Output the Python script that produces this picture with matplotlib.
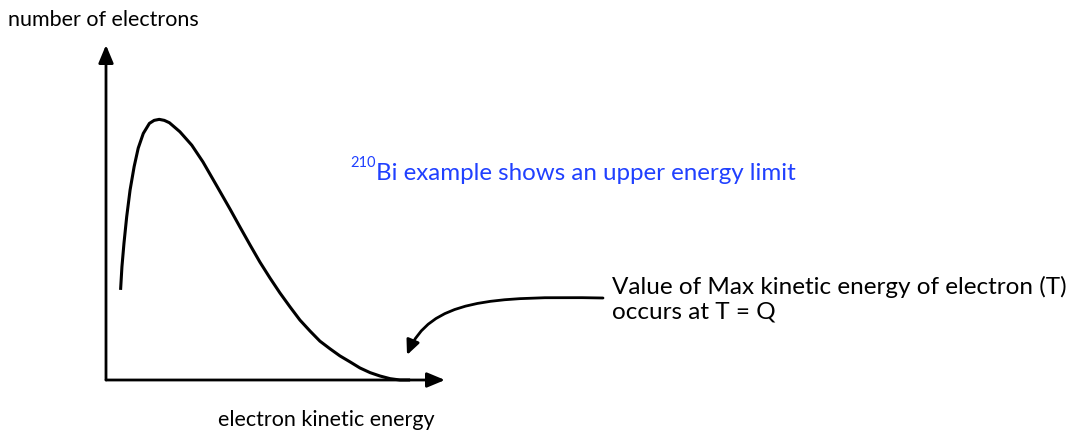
import matplotlib
matplotlib.use('Agg')
import matplotlib.pyplot as plt
from matplotlib.patches import FancyArrowPatch
from matplotlib.path import Path

plt.rcParams['font.family'] = ['Lato', 'DejaVu Sans']

# spectrum shape (energy and counts, both scaled 0..1)
energy = [0.043, 0.047, 0.053, 0.061, 0.071, 0.083, 0.095, 0.110, 0.128, 0.142,
          0.157, 0.172, 0.187, 0.218, 0.253, 0.286, 0.327, 0.366, 0.395, 0.425,
          0.454, 0.484, 0.513, 0.543, 0.572, 0.602, 0.631, 0.661, 0.690, 0.720,
          0.749, 0.779, 0.808, 0.838, 0.867, 0.897]
counts = [0.269, 0.338, 0.408, 0.487, 0.567, 0.637, 0.692, 0.736, 0.766, 0.775,
          0.778, 0.775, 0.768, 0.741, 0.701, 0.651, 0.579, 0.510, 0.457, 0.403,
          0.352, 0.304, 0.260, 0.218, 0.179, 0.146, 0.116, 0.093, 0.072, 0.054,
          0.036, 0.022, 0.012, 0.004, 0.000, 0.000]

y_label = 'number of electrons'
x_label = 'electron kinetic energy'
note_blue = 'Bi example shows an upper energy limit'
isotope = '210'
note_right = 'Value of Max kinetic energy of electron (T)\noccurs at T = Q'

W, H = 1069, 432
fig = plt.figure(figsize=(W / 100, H / 100), dpi=100)

# overlay in pixel coordinates for the annotations
ov = fig.add_axes([0, 0, 1, 1])
ov.set_xlim(0, W)
ov.set_ylim(H, 0)
ov.axis('off')

# the plot axes (origin at the corner of the two arrows)
ax = fig.add_axes([106 / W, (H - 380) / H, (445 - 106) / W, (380 - 45) / H])
ax.set_xlim(0, 1)
ax.set_ylim(0, 1)
ax.axis('off')

arrow_kw = dict(arrowstyle='-|>,head_length=0.6,head_width=0.25', color='black',
                lw=2, shrinkA=0, shrinkB=0, mutation_scale=18)
ax.annotate('', xy=(1, 0), xytext=(0, 0), xycoords='axes fraction',
            arrowprops=arrow_kw, annotation_clip=False)
ax.annotate('', xy=(0, 1), xytext=(0, 0), xycoords='axes fraction',
            arrowprops=arrow_kw, annotation_clip=False)

ax.plot(energy, counts, color='black', lw=2.2, solid_joinstyle='round',
        solid_capstyle='butt', clip_on=False)

# labels
ov.text(8, 20, y_label, fontsize=15.5, va='center', ha='left')
ov.text(326, 420, x_label, fontsize=15.5, va='center', ha='center')

sup = ov.text(350, 163, isotope, fontsize=10.5, va='center', ha='left', color='#2040ff')
ov.annotate(note_blue, xy=(1, 0), xycoords=sup, xytext=(0, -10), textcoords='offset points',
            fontsize=17.4, va='bottom', ha='left', color='#2040ff')

ov.text(612, 299, note_right, fontsize=17.5, va='center', ha='left', linespacing=1.2)

# curved pointer to the end point of the spectrum
pointer = Path([(603, 298), (490, 296), (430, 300), (407, 355)],
               [Path.MOVETO, Path.CURVE4, Path.CURVE4, Path.CURVE4])
ov.add_patch(FancyArrowPatch(path=pointer, arrowstyle='-|>,head_length=0.55,head_width=0.25',
                             mutation_scale=16, color='black', lw=2))

fig.savefig('out.png', dpi=100)
